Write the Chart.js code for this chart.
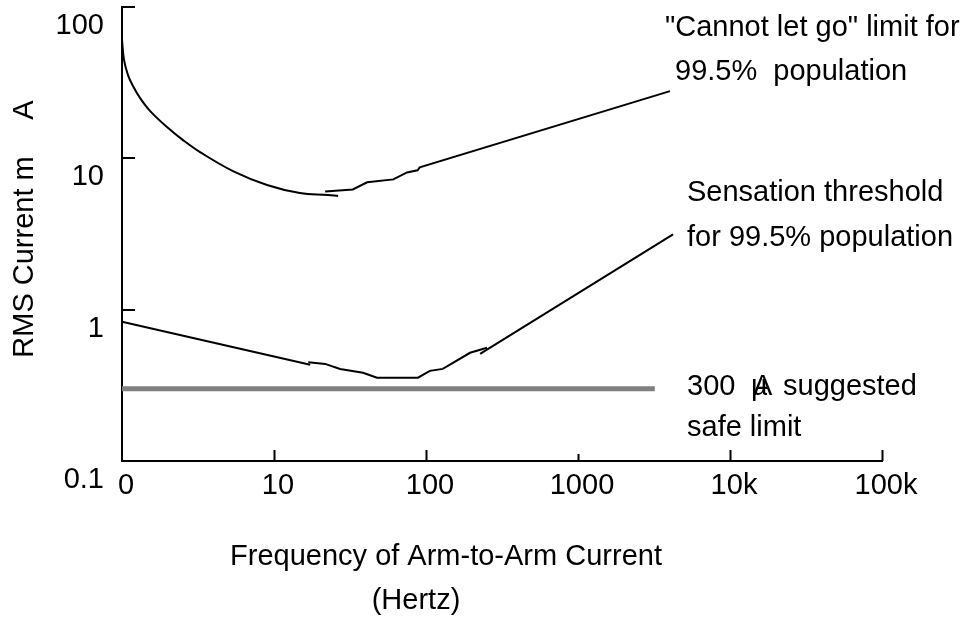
<!DOCTYPE html>
<html>
<head>
<meta charset="utf-8">
<script src="https://cdn.jsdelivr.net/npm/chart.js@4"></script>
<style>
  html, body { margin: 0; padding: 0; background: #fff; }
  canvas { display: block; }
</style>
</head>
<body>
<canvas id="chart" width="977" height="623"></canvas>
<script>
// frequency (Hz) / current (mA) pairs
const letGoLowHz = [1, 1.031, 1.095, 1.181, 1.313, 1.528, 1.977, 2.52, 3.26, 5.37, 9.0, 14.8, 22.6, 26.4];
const letGoLowMa = [60.5, 44.7, 35.5, 30.1, 25.1, 20.6, 16.1, 13.2, 11.0, 8.24, 6.67, 5.90, 5.73, 5.64];
const letGoHighHz = [21.7, 33, 41, 61, 75, 88, 91, 4030];
const letGoHighMa = [6.04, 6.23, 6.94, 7.26, 8.07, 8.34, 8.72, 27.8];

const sensLowHz = [1, 17.3];
const sensLowMa = [0.833, 0.433];
const sensMidHz = [16.8, 21.7, 27.2, 38.5, 47.6, 88.5, 106, 129, 195, 252];
const sensMidMa = [0.45, 0.438, 0.406, 0.383, 0.355, 0.355, 0.394, 0.406, 0.519, 0.56];
const sensHighHz = [227, 4220];
const sensHighMa = [0.511, 3.14];

const safeHz = [1, 3200];
const safeMa = [0.3, 0.3];

const xTickValues = [1, 10, 100, 1000, 10000, 100000];
const xTickLabels = ['0', '10', '100', '1000', '10k', '100k'];
const yTickValues = [0.1, 1, 10, 100];
const yTickLabels = ['0.1', '1', '10', '100'];

const FONT = '"Liberation Sans", Arial, Helvetica, sans-serif';

function pairs(xs, ys) {
  return xs.map((x, i) => ({ x: x, y: ys[i] }));
}

function line(xs, ys, extra) {
  return Object.assign({
    data: pairs(xs, ys),
    borderColor: '#000',
    borderWidth: 2,
    pointRadius: 0,
    tension: 0,
    clip: false
  }, extra || {});
}

// tick marks point into the plot, and the texts sit where the original put them
const decorations = {
  id: 'decorations',
  afterDraw(chart) {
    const ctx = chart.ctx;
    const xs = chart.scales.x, ys = chart.scales.y;
    const area = chart.chartArea;
    ctx.save();
    ctx.strokeStyle = '#000';
    ctx.lineWidth = 2;
    ctx.beginPath();
    xTickValues.slice(1).forEach(v => {
      const px = Math.round(xs.getPixelForValue(v)) + 0.5;
      const len = v === 1000 ? 7 : 11;
      ctx.moveTo(px, area.bottom);
      ctx.lineTo(px, area.bottom - len);
    });
    yTickValues.slice(1).forEach(v => {
      const py = Math.round(ys.getPixelForValue(v));
      ctx.moveTo(area.left, py);
      ctx.lineTo(area.left + 13, py);
    });
    ctx.stroke();

    ctx.fillStyle = '#000';
    ctx.font = '29px ' + FONT;
    ctx.textBaseline = 'middle';
    ctx.textAlign = 'left';
    ctx.fillText('"Cannot let go" limit for', 665, 28);
    ctx.fillText('99.5%  population', 675, 72);
    ctx.fillText('Sensation threshold', 687, 193);
    ctx.fillText('for 99.5% population', 687, 238);
    ctx.fillText('300', 687, 387);
    ctx.fillText('\u00b5', 751, 387);
    ctx.fillText('A', 753, 387);
    ctx.fillText('suggested', 783, 387);
    ctx.fillText('safe limit', 687, 428);

    ctx.textAlign = 'center';
    ctx.fillText('Frequency of Arm-to-Arm Current', 446, 557);
    ctx.fillText('(Hertz)', 416, 601);

    ctx.translate(25, 0);
    ctx.rotate(-Math.PI / 2);
    ctx.fillText('RMS Current m', -257, 0);
    ctx.fillText('A', -110, 0);
    ctx.restore();
  }
};

Chart.defaults.font.family = FONT;
Chart.defaults.font.size = 29;
Chart.defaults.color = '#000';

new Chart(document.getElementById('chart'), {
  type: 'line',
  data: {
    datasets: [
      line(safeHz, safeMa, { borderColor: '#808080', borderWidth: 5 }),
      line(letGoLowHz, letGoLowMa, { tension: 0.4 }),
      line(letGoHighHz, letGoHighMa),
      line(sensLowHz, sensLowMa),
      line(sensMidHz, sensMidMa),
      line(sensHighHz, sensHighMa)
    ]
  },
  options: {
    responsive: false,
    animation: false,
    devicePixelRatio: 1,
    layout: { padding: { left: 0, top: 7, right: 95, bottom: 0 } },
    plugins: { legend: { display: false }, tooltip: { enabled: false } },
    scales: {
      x: {
        type: 'logarithmic',
        min: 1,
        max: 100000,
        grid: { display: false },
        border: { display: true, color: '#000', width: 2 },
        afterBuildTicks: (scale) => { scale.ticks = xTickValues.map(v => ({ value: v })); },
        afterFit: (scale) => {
          scale.height = 162;
          scale.paddingLeft = 0; scale.paddingRight = 0;
        },
        ticks: {
          autoSkip: false,
          maxRotation: 0,
          padding: 0,
          labelOffset: 4,
          callback: (v) => xTickLabels[xTickValues.indexOf(v)]
        }
      },
      y: {
        type: 'logarithmic',
        min: 0.1,
        max: 100,
        grid: { display: false },
        border: { display: true, color: '#000', width: 2 },
        afterBuildTicks: (scale) => { scale.ticks = yTickValues.map(v => ({ value: v })); },
        afterFit: (scale) => {
          scale.width = 122;
          scale.paddingTop = 0; scale.paddingBottom = 0;
        },
        ticks: {
          autoSkip: false,
          padding: 10,
          labelOffset: 19,
          callback: (v) => yTickLabels[yTickValues.indexOf(v)]
        }
      }
    }
  },
  plugins: [decorations]
});
</script>
</body>
</html>
